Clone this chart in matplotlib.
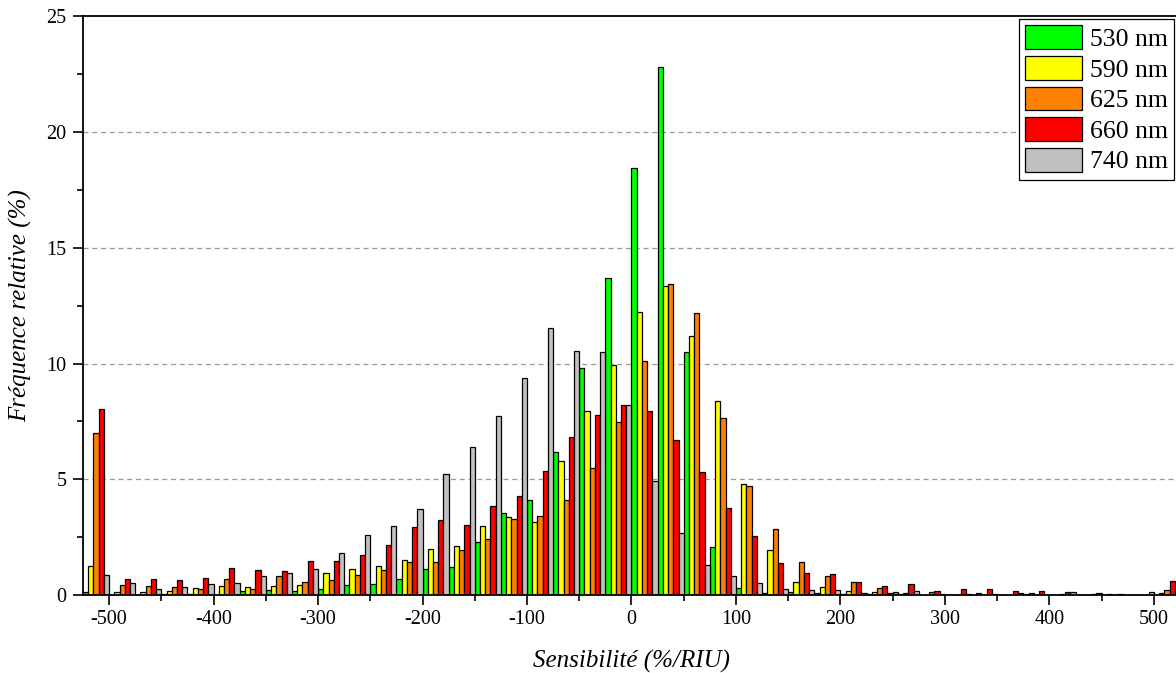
import numpy as np
import matplotlib
matplotlib.use("Agg")
import matplotlib.pyplot as plt
from matplotlib.ticker import MultipleLocator

# ---------------------------------------------------------------
# Data: relative frequency (%) per 25 %/RIU bin, one list per wavelength
# ---------------------------------------------------------------
bin_left = np.arange(-525, 525, 25)   # 42 bins, -525 .. 500
labels = ["530 nm", "590 nm", "625 nm", "660 nm", "740 nm"]
colors = ["#00ff00", "#ffff00", "#ff8000", "#ff0000", "#c0c0c0"]

f530 = [0.14, 0.00, 0.00, 0.04, 0.04, 0.00, 0.16, 0.20, 0.17, 0.27,
        0.45, 0.48, 0.68, 1.12, 1.20, 2.28, 3.53, 4.09, 6.16, 9.79,
        13.68, 18.47, 22.82, 10.48, 2.09, 0.30, 0.09, 0.14, 0.09, 0.04,
        0.06, 0.13, 0.01, 0.00, 0.00, 0.02, 0.04, 0.00, 0.00, 0.00,
        0.00, 0.02]
f590 = [1.25, 0.12, 0.13, 0.16, 0.29, 0.37, 0.33, 0.40, 0.45, 0.95,
        1.11, 1.25, 1.51, 1.99, 2.13, 2.98, 3.38, 3.17, 5.77, 7.95,
        9.96, 12.24, 13.36, 11.19, 8.39, 4.78, 1.94, 0.55, 0.36, 0.16,
        0.13, 0.06, 0.01, 0.00, 0.07, 0.00, 0.09, 0.00, 0.00, 0.04,
        0.00, 0.10]
f625 = [7.00, 0.43, 0.37, 0.35, 0.27, 0.69, 0.24, 0.81, 0.58, 0.66,
        0.88, 1.07, 1.44, 1.44, 1.93, 2.42, 3.30, 3.40, 4.12, 5.47,
        7.46, 10.12, 13.42, 12.19, 7.67, 4.72, 2.85, 1.41, 0.81, 0.55,
        0.32, 0.09, 0.12, 0.00, 0.00, 0.00, 0.00, 0.03, 0.00, 0.00,
        0.00, 0.22]
f660 = [8.04, 0.69, 0.70, 0.65, 0.73, 1.17, 1.08, 1.05, 1.47, 1.48,
        1.73, 2.17, 2.94, 3.24, 3.04, 3.84, 4.28, 5.36, 6.83, 7.78,
        8.19, 7.93, 6.71, 5.30, 3.78, 2.55, 1.40, 0.94, 0.91, 0.57,
        0.39, 0.48, 0.17, 0.25, 0.27, 0.19, 0.17, 0.12, 0.03, 0.03,
        0.00, 0.60]
f740 = [0.86, 0.50, 0.27, 0.33, 0.46, 0.52, 0.84, 0.94, 1.11, 1.81,
        2.59, 2.97, 3.73, 5.23, 6.39, 7.72, 9.36, 11.53, 10.53, 10.48,
        8.21, 4.94, 2.66, 1.28, 0.82, 0.53, 0.27, 0.23, 0.23, 0.09,
        0.09, 0.16, 0.04, 0.03, 0.03, 0.09, 0.02, 0.13, 0.09, 0.00,
        0.13, 0.30]
series = [f530, f590, f625, f660, f740]

# ---------------------------------------------------------------
# Style
# ---------------------------------------------------------------
plt.rcParams["font.family"] = ["Liberation Serif", "DejaVu Serif"]

fig = plt.figure(figsize=(11.76, 6.73), dpi=100)
ax = fig.add_axes([83 / 1176, 78 / 673, 1097 / 1176, 578.5 / 673])

bar_w = 5
for j, (vals, col, lab) in enumerate(zip(series, colors, labels)):
    ax.bar(bin_left + bar_w * (j + 0.5), vals, width=bar_w, color=col,
           edgecolor="black", linewidth=0.9, label=lab, zorder=2)

ax.set_xlim(-525, 525)
ax.set_ylim(0, 25)
ax.xaxis.set_minor_locator(MultipleLocator(50))
ax.yaxis.set_major_locator(MultipleLocator(5))
ax.yaxis.set_minor_locator(MultipleLocator(2.5))

ax.tick_params(axis="both", which="major", direction="out", length=7,
               width=1.2, labelsize=14.5, pad=4)
ax.tick_params(axis="both", which="minor", direction="out", length=4,
               width=1.2)
ax.tick_params(axis="y", which="major", pad=5)
ax.set_xticks(np.arange(-500, 501, 100))
ax.set_xticklabels([str(v) for v in range(-500, 501, 100)])

for side in ["left", "bottom", "top", "right"]:
    ax.spines[side].set_linewidth(1.3)

# dashed reference lines behind the bars
for yv in [5, 10, 15, 20]:
    ax.axhline(yv, color="#999999", linestyle=(0, (4, 3)), linewidth=0.9,
               zorder=0)

ax.set_xlabel("Sensibilité (%/RIU)", fontsize=18, style="italic",
              labelpad=15)
ax.set_ylabel("Fréquence relative (%)", fontsize=18, style="italic",
              labelpad=10)

leg = ax.legend(loc="upper right", bbox_to_anchor=(0.9945, 0.9957),
                borderaxespad=0, fontsize=18.5, fancybox=False,
                framealpha=1, edgecolor="black", handlelength=2.2,
                handleheight=1.05, handletextpad=0.3, labelspacing=0.19,
                borderpad=0.25)
leg.get_frame().set_linewidth(0.9)

fig.savefig("out.png", dpi=100)
